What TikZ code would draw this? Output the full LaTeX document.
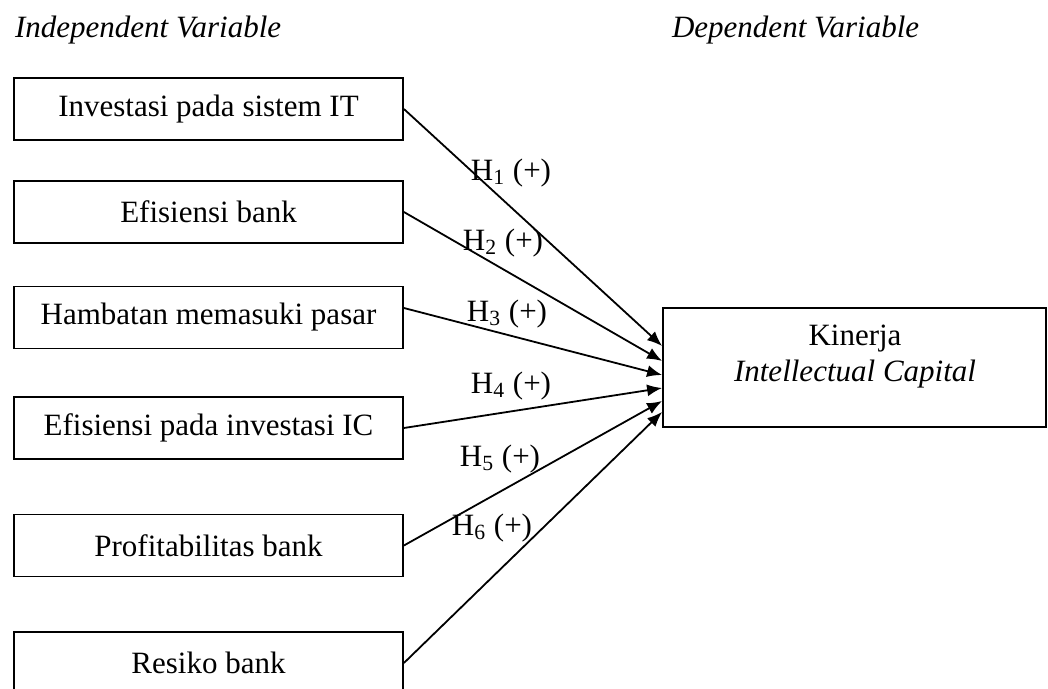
\documentclass[tikz,border=0pt]{standalone}
\usepackage{fontspec}
\setmainfont{Liberation Serif}
\usetikzlibrary{arrows.meta,positioning}

\begin{document}
\begin{tikzpicture}[x=0.5pt,y=-0.5pt,font=\fontsize{15.5}{18}\selectfont,
  var/.style={draw,line width=0.9pt,minimum width=194.5pt,minimum height=31pt,inner sep=0pt},
  hyp/.style={-{Latex[length=7.5pt,width=6pt]},line width=0.9pt}]
\useasboundingbox (0,0) rectangle (1048,689);
\clip (0,0) rectangle (1048,689);
\node[anchor=west,font=\fontsize{15.5}{18}\selectfont\itshape] (indep) at (8,30) {Independent Variable};
\node[anchor=west,font=\fontsize{15.5}{18}\selectfont\itshape] (dep) at (665,30) {Dependent Variable};
% independent variables
\node[var] (it) at (208.5,109) {Investasi pada sistem IT};
\node[var] (eff) at (208.5,212) {Efisiensi bank};
\node[var] (ham) at (208.5,317.5) {Hambatan memasuki pasar};
\node[var] (ic) at (208.5,428) {Efisiensi pada investasi IC};
\node[var] (prof) at (208.5,545.5) {Profitabilitas bank};
\node[var] (res) at (208.5,663) {Resiko bank};
% dependent variable
\node[draw,line width=0.9pt,minimum width=191.5pt,minimum height=59.5pt] (kin) at (854.5,367.5) {};
\node[align=center] (kintext) at (855,357) {Kinerja\\\textit{Intellectual Capital}};
\draw[hyp] (it.east) -- ([yshift=10.75pt]kin.west);
\draw[hyp] (eff.east) -- ([yshift=3.25pt]kin.west);
\draw[hyp] ([yshift=4.75pt]ham.east) -- ([yshift=-3.75pt]kin.west);
\draw[hyp] (ic.east) -- ([yshift=-10.25pt]kin.west);
\draw[hyp] (prof.east) -- ([yshift=-16.75pt]kin.west);
\draw[hyp] (res.east) -- ([yshift=-22.25pt]kin.west);
% hypotheses
\node (h1) at (511,173) {H\textsubscript{1} (+)};
\node (h2) at (503,243) {H\textsubscript{2} (+)};
\node (h3) at (507,314) {H\textsubscript{3} (+)};
\node (h4) at (511,386) {H\textsubscript{4} (+)};
\node (h5) at (500,459) {H\textsubscript{5} (+)};
\node (h6) at (492,528) {H\textsubscript{6} (+)};
\end{tikzpicture}
\end{document}
